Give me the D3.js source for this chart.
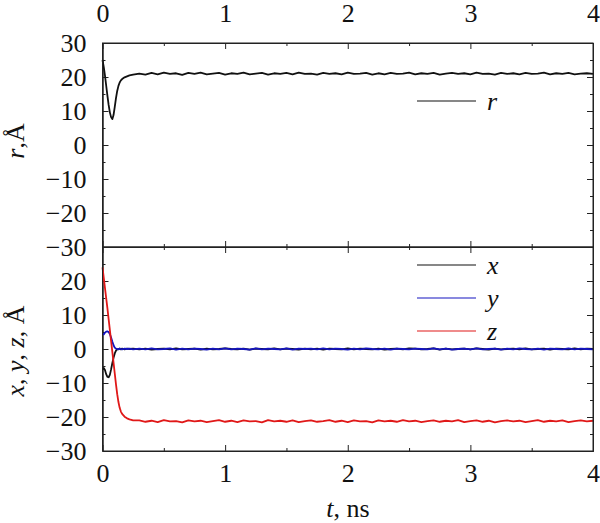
<!DOCTYPE html>
<html>
<head>
<meta charset="utf-8">
<script src="https://cdn.jsdelivr.net/npm/d3@7"></script>
<style>
  body { margin: 0; background: #fff; }
  svg { display: block; }
  .line { fill: none; stroke-linejoin: round; }
</style>
</head>
<body>
<svg id="chart" width="600" height="523"></svg>
<script>
// time samples, ns
const times = [
    0, 0.01, 0.02, 0.03, 0.04, 0.05, 0.06, 0.07, 0.08, 0.09, 0.10,
    0.11, 0.12, 0.13, 0.14, 0.15, 0.16, 0.18, 0.20, 0.22, 0.25,
    0.30, 0.35, 0.40, 0.45, 0.50, 0.55, 0.60, 0.65, 0.70, 0.75, 0.80, 0.85, 0.90, 0.95, 1.00,
    1.05, 1.10, 1.15, 1.20, 1.25, 1.30, 1.35, 1.40, 1.45, 1.50, 1.55, 1.60, 1.65, 1.70, 1.75,
    1.80, 1.85, 1.90, 1.95, 2.00, 2.05, 2.10, 2.15, 2.20, 2.25, 2.30, 2.35, 2.40, 2.45, 2.50,
    2.55, 2.60, 2.65, 2.70, 2.75, 2.80, 2.85, 2.90, 2.95, 3.00, 3.05, 3.10, 3.15, 3.20, 3.25,
    3.30, 3.35, 3.40, 3.45, 3.50, 3.55, 3.60, 3.65, 3.70, 3.75, 3.80, 3.85, 3.90, 3.95, 4.00
]
// distance r, Å
const rValues = [
    25.0, 23.0, 20.5, 17.5, 14.5, 11.8, 9.6, 8.2, 7.6, 8.8, 11.2,
    13.8, 15.9, 17.4, 18.4, 19.0, 19.4, 19.9, 20.2, 20.5, 20.7,
    21.0, 20.7, 21.2, 20.8, 21.3, 20.9, 21.1, 20.6, 21.2, 20.9, 21.3, 20.8, 21.0, 21.2, 20.7,
    21.1, 20.9, 21.3, 20.8, 21.0, 21.2, 20.7, 21.1, 20.9, 21.2, 20.8, 21.3, 20.9, 21.0, 20.7,
    21.2, 20.9, 21.1, 20.8, 21.3, 20.9, 21.0, 21.2, 20.7, 21.1, 20.8, 21.2, 20.9, 21.0, 21.3,
    20.8, 21.1, 20.9, 21.2, 20.7, 21.0, 21.2, 20.9, 21.1, 20.8, 21.3, 20.9, 21.0, 20.7, 21.2,
    20.9, 21.1, 20.8, 21.2, 20.9, 21.0, 21.3, 20.8, 21.1, 20.9, 21.2, 20.8, 21.0, 21.1, 20.9
]
// components x, y, z, Å
const xValues = [
    -6.0, -5.6, -6.2, -7.4, -8.2, -8.3, -7.6, -6.0, -4.2, -2.6, -1.3,
    -0.5, -0.1, 0.0, 0.1, -0.1, 0.1, -0.1, 0.1, 0.0, 0.1,
    -0.1, 0.1, -0.2, 0.0, 0.1, -0.1, 0.2, -0.1, 0.0, 0.1, -0.2, 0.1, -0.1, 0.0, 0.2,
    0.0, -0.1, 0.1, -0.2, 0.1, 0.0, -0.1, 0.2, -0.1, 0.1, 0.0, -0.2, 0.1, -0.1, 0.1,
    -0.2, 0.1, 0.0, -0.1, 0.2, -0.1, 0.1, 0.0, -0.1, 0.1, -0.2, 0.0, 0.1, -0.1, 0.2,
    0.1, -0.1, 0.0, 0.2, -0.2, 0.1, -0.1, 0.0, 0.1, -0.1, 0.2, 0.0, -0.2, 0.1, -0.1,
    0.0, 0.1, -0.1, 0.2, -0.1, 0.0, 0.1, -0.2, 0.1, 0.0, -0.1, 0.2, -0.1, 0.1, 0.0
]
const yValues = [
    4.4, 4.3, 4.8, 5.1, 5.2, 5.0, 4.4, 3.4, 2.2, 1.1, 0.4,
    0.1, 0.0, -0.1, 0.1, 0.0, -0.1, 0.1, 0.0, 0.1, -0.1,
    0.1, -0.1, 0.2, -0.1, 0.0, 0.2, -0.2, 0.1, -0.1, 0.1, 0.0, -0.2, 0.1, -0.1, 0.2,
    -0.1, 0.1, 0.0, -0.2, 0.2, -0.1, 0.1, 0.0, -0.1, 0.2, -0.2, 0.1, 0.0, 0.1, -0.1,
    0.2, -0.1, 0.1, 0.0, -0.2, 0.1, -0.1, 0.2, 0.0, -0.1, 0.1, -0.2, 0.1, 0.0, -0.1,
    0.1, 0.0, -0.1, 0.2, -0.1, 0.1, -0.2, 0.0, 0.1, -0.1, 0.2, -0.1, 0.0, 0.1, -0.2,
    0.1, -0.1, 0.2, 0.0, -0.1, 0.1, -0.2, 0.1, 0.0, -0.1, 0.2, -0.1, 0.1, 0.0, -0.1
]
const zValues = [
    24.0, 21.0, 18.0, 15.0, 12.0, 8.8, 5.6, 2.4, -0.8, -4.0, -7.2,
    -10.4, -13.3, -15.6, -17.3, -18.4, -19.1, -19.9, -20.4, -20.7, -21.0,
    -21.0, -21.4, -21.1, -21.5, -20.9, -21.3, -21.2, -21.6, -21.0, -21.3, -21.1, -21.5, -21.2, -20.9, -21.4,
    -21.1, -21.5, -21.0, -21.3, -21.2, -21.6, -20.9, -21.3, -21.1, -21.4, -21.0, -21.5, -21.2, -21.0, -21.4,
    -21.2, -20.9, -21.4, -21.1, -21.5, -21.0, -21.3, -21.2, -21.6, -21.0, -21.3, -21.1, -21.4, -20.9, -21.3,
    -21.1, -21.5, -21.2, -21.0, -21.4, -21.1, -21.3, -20.9, -21.5, -21.2, -21.0, -21.4, -21.1, -21.6, -21.2,
    -21.0, -21.3, -21.1, -21.5, -21.2, -20.9, -21.4, -21.1, -21.3, -21.0, -21.5, -21.2, -21.0, -21.3, -21.1
]

const xTicks = [0, 1, 2, 3, 4]
const xMinorTicks = [0.5, 1.5, 2.5, 3.5]
const yTicksTop = [30, 20, 10, 0, -10, -20, -30]
const yTicksBottom = [20, 10, 0, -10, -20, -30]
const yMinorTicks = [25, 15, 5, -5, -15, -25]

const margin = { left: 102.5, right: 7, top: 43 }
const panelHeight = 204
const width = 600 - margin.left - margin.right
const fontSize = 26
const serif = "Liberation Serif"

const svg = d3.select("#chart")
    .attr("font-family", serif)
    .attr("font-size", fontSize)

const xScale = d3.scaleLinear().domain([0, 4]).range([0, width])

// helper: inward ticks, optional labels
function addAxis(g, axis, ticks, size, labels, pad, transform) {
    axis.tickValues(ticks).tickSizeInner(-size).tickSizeOuter(0).tickPadding(pad)
        .tickFormat(labels ? d3.format("d") : "")
    const a = g.append("g").attr("transform", transform || null).call(axis)
        .attr("font-family", serif).attr("font-size", fontSize)
    a.select(".domain").attr("stroke", "#222")
    a.selectAll(".tick line").attr("stroke", "#222")
    a.selectAll(".tick text").attr("fill", "#111")
        .style("font-family", serif).style("font-size", fontSize + "px")
}

// draw one panel with frame, ticks and lines
function drawPanel(top, yLabelTicks, showTopLabels, showBottomLabels, series) {
    const g = svg.append("g").attr("transform", `translate(${margin.left}, ${top})`)
    const yScale = d3.scaleLinear().domain([-30, 30]).range([panelHeight, 0])
    const bottom = `translate(0, ${panelHeight})`
    const right = `translate(${width}, 0)`

    // minor ticks
    addAxis(g, d3.axisTop(xScale), xMinorTicks, 3, false, 0)
    addAxis(g, d3.axisBottom(xScale), xMinorTicks, 3, false, 0, bottom)
    addAxis(g, d3.axisLeft(yScale), yMinorTicks, 3, false, 0)
    addAxis(g, d3.axisRight(yScale), yMinorTicks, 3, false, 0, right)

    // major ticks
    addAxis(g, d3.axisTop(xScale), xTicks, 6, showTopLabels, 21)
    addAxis(g, d3.axisBottom(xScale), xTicks, 6, showBottomLabels, 13, bottom)
    addAxis(g, d3.axisLeft(yScale), yLabelTicks, 6, true, 16)
    addAxis(g, d3.axisRight(yScale), yTicksTop, 6, false, 0, right)

    const line = d3.line().x((d, i) => xScale(times[i])).y(d => yScale(d))
    series.forEach(s => {
        g.append("path").datum(s.values)
            .attr("class", "line")
            .attr("stroke", s.color)
            .attr("stroke-width", 1.8)
            .attr("d", line)
    })

    // frame
    g.append("rect").attr("width", width).attr("height", panelHeight)
        .attr("fill", "none").attr("stroke", "#222").attr("stroke-width", 1)

    // legend
    series.forEach(s => {
        const ly = s.legendY - top
        g.append("line").attr("x1", 417 - margin.left).attr("x2", 476 - margin.left)
            .attr("y1", ly).attr("y2", ly).attr("stroke", s.color).attr("stroke-width", 1.2)
        g.append("text").attr("x", 487 - margin.left).attr("y", ly + 9)
            .attr("fill", "#111").attr("font-style", "italic").text(s.name)
    })
    return g
}

drawPanel(margin.top, yTicksTop, true, false, [
    { name: "r", values: rValues, color: "#111", legendY: 101 }
])
drawPanel(margin.top + panelHeight, yTicksBottom, false, true, [
    { name: "x", values: xValues, color: "#111", legendY: 265 },
    { name: "y", values: yValues, color: "#1414c0", legendY: 298 },
    { name: "z", values: zValues, color: "#e01818", legendY: 331 }
])

// axis titles
const t1 = svg.append("text").attr("transform", "translate(24, 141) rotate(-90)")
    .attr("text-anchor", "middle").attr("fill", "#111")
t1.append("tspan").attr("font-style", "italic").text("r")
t1.append("tspan").text(",Å")

const t2 = svg.append("text").attr("transform", "translate(24, 351) rotate(-90)")
    .attr("text-anchor", "middle").attr("fill", "#111")
t2.append("tspan").attr("font-style", "italic").text("x")
t2.append("tspan").text(", ")
t2.append("tspan").attr("font-style", "italic").text("y")
t2.append("tspan").text(", ")
t2.append("tspan").attr("font-style", "italic").text("z")
t2.append("tspan").text(", Å")

const t3 = svg.append("text").attr("x", 348).attr("y", 517)
    .attr("text-anchor", "middle").attr("fill", "#111")
t3.append("tspan").attr("font-style", "italic").text("t")
t3.append("tspan").text(", ns")
</script>
</body>
</html>
